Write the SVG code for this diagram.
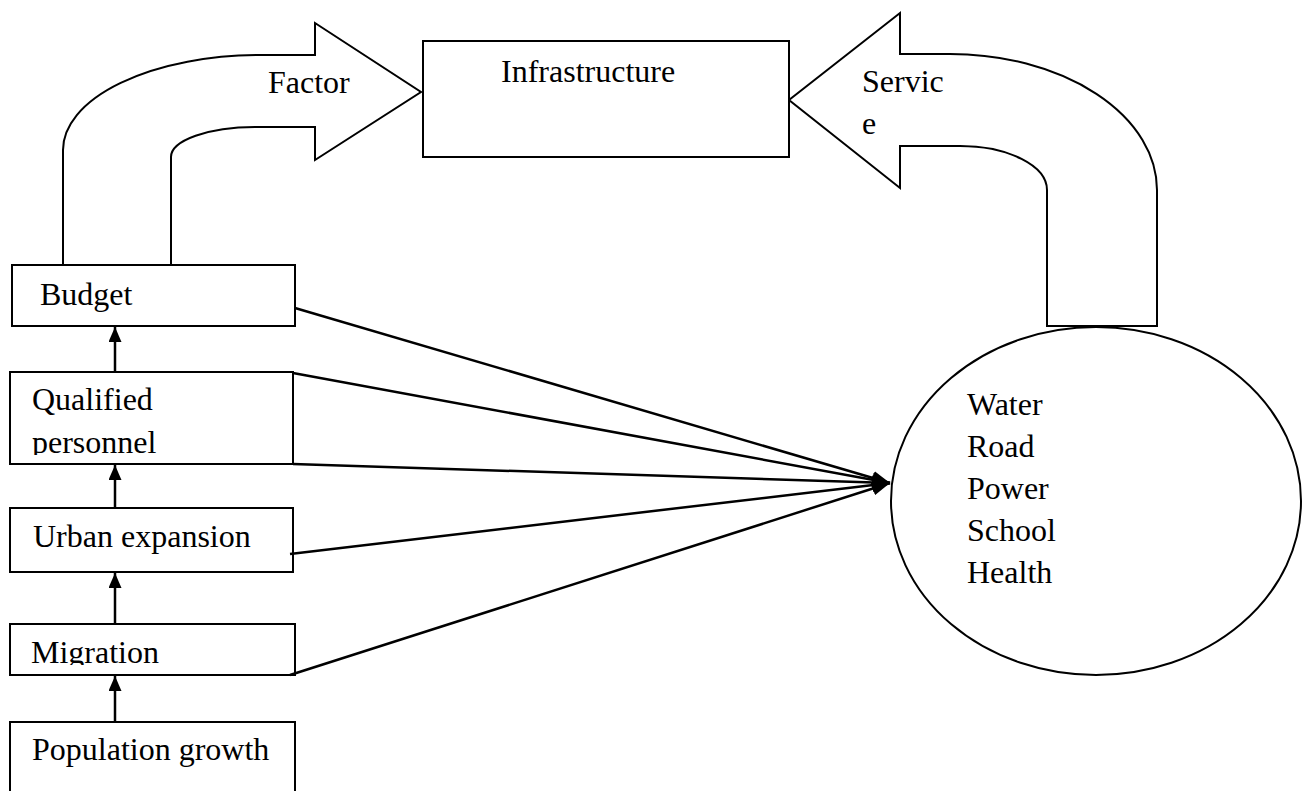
<svg xmlns="http://www.w3.org/2000/svg" width="1302" height="791" viewBox="0 0 1302 791">
<style>
.box{fill:#fff;stroke:#000;stroke-width:2}
.blk{fill:#fff;stroke:#000;stroke-width:2;stroke-linejoin:miter}
.t{font-family:"Liberation Serif","Times New Roman",serif;font-size:32px;fill:#000}
.c{stroke:#000;stroke-width:2.5;fill:none}
</style>
<defs>
<marker id="ah" viewBox="0 0 18 14" refX="18" refY="7" markerUnits="userSpaceOnUse" markerWidth="18" markerHeight="14" orient="auto">
<path d="M0 0 L18 7 L0 14 Z" fill="#000"/>
</marker>
<marker id="ahv" viewBox="0 0 15 13" refX="15" refY="6.5" markerUnits="userSpaceOnUse" markerWidth="15" markerHeight="13" orient="auto">
<path d="M0 0 L15 6.5 L0 13 Z" fill="#000"/>
</marker>
<clipPath id="clipQ"><rect x="0" y="360" width="300" height="95"/></clipPath>
<clipPath id="clipM"><rect x="0" y="620" width="300" height="45"/></clipPath>
</defs>

<g id="factor-arrow">
<path class="blk" d="M63 266 L63 150 A197 95 0 0 1 260 55 L315 55 L315 23 L421 92 L315 160 L315 127 L255 127 A84 30 0 0 0 171 157 L171 266"/>
<text class="t" x="268" y="93">Factor</text>
</g>

<g id="service-arrow">
<path class="blk" d="M1047 326 L1047 190 A87 44 0 0 0 960 146 L900 146 L900 188 L789 100 L900 13 L900 54 L950 54 A207 136 0 0 1 1157 190 L1157 326 Z"/>
<text class="t" x="862" y="92">Servic</text>
<text class="t" x="862" y="134">e</text>
</g>

<g id="infrastructure">
<rect class="box" x="423" y="41" width="366" height="116"/>
<text class="t" x="501" y="82">Infrastructure</text>
</g>

<g id="services">
<ellipse class="box" cx="1096" cy="501" rx="205" ry="174"/>
<text class="t" x="967" y="415">Water</text>
<text class="t" x="967" y="457">Road</text>
<text class="t" x="967" y="499">Power</text>
<text class="t" x="967" y="541">School</text>
<text class="t" x="967" y="583">Health</text>
</g>

<g id="budget">
<rect class="box" x="12" y="265" width="283" height="61"/>
<text class="t" x="40" y="305">Budget</text>
</g>

<g id="qualified-personnel">
<rect class="box" x="10" y="372" width="283" height="92"/>
<g clip-path="url(#clipQ)">
<text class="t" x="32" y="410">Qualified</text>
<text class="t" x="32" y="453">personnel</text>
</g>
</g>

<g id="urban-expansion">
<rect class="box" x="10" y="508" width="283" height="64"/>
<text class="t" x="33" y="547">Urban expansion</text>
</g>

<g id="migration">
<rect class="box" x="10" y="624" width="285" height="51"/>
<g clip-path="url(#clipM)">
<text class="t" x="31" y="663">Migration</text>
</g>
</g>

<g id="population-growth">
<rect class="box" x="10" y="722" width="285" height="80"/>
<text class="t" x="32" y="760">Population growth</text>
</g>

<g id="connectors">
<line class="c" x1="115" y1="372" x2="115" y2="327" marker-end="url(#ahv)"/>
<line class="c" x1="115" y1="508" x2="115" y2="465" marker-end="url(#ahv)"/>
<line class="c" x1="115" y1="624" x2="115" y2="573" marker-end="url(#ahv)"/>
<line class="c" x1="115" y1="722" x2="115" y2="676" marker-end="url(#ahv)"/>
<line class="c" x1="295" y1="308" x2="890" y2="483" marker-end="url(#ah)"/>
<line class="c" x1="293" y1="373" x2="890" y2="483" marker-end="url(#ah)"/>
<line class="c" x1="293" y1="464" x2="890" y2="483" marker-end="url(#ah)"/>
<line class="c" x1="290" y1="554" x2="890" y2="483" marker-end="url(#ah)"/>
<line class="c" x1="290" y1="675" x2="890" y2="483" marker-end="url(#ah)"/>
</g>
</svg>
